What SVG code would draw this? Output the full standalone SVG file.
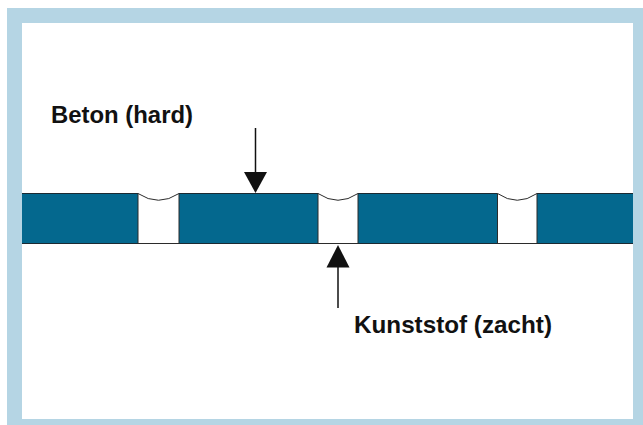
<svg xmlns="http://www.w3.org/2000/svg" width="643" height="425" viewBox="0 0 643 425">
  <style>
    .label { font-family: "Liberation Sans", Arial, sans-serif; font-weight: bold; font-size: 24.5px; fill: #111; }
    .bar { fill: #04688e; }
    .edge { stroke: #1c2a32; stroke-width: 1.2; fill: none; }
    .joint { stroke: #2b2b2b; stroke-width: 1; fill: none; }
    .shaft { stroke: #111; stroke-width: 1.5; }
    .head { fill: #111; }
  </style>

  <!-- frame -->
  <rect x="7" y="8" width="636" height="417" fill="#b5d5e4"/>
  <rect x="22" y="23" width="611" height="396" fill="#ffffff"/>

  <!-- concrete slab with soft expansion joints -->
  <g id="slab">
    <rect class="bar" x="22" y="193" width="611" height="50.5"/>
    <line class="edge" x1="22" y1="193.5" x2="633" y2="193.5"/>
    <line class="edge" x1="22" y1="243.5" x2="633" y2="243.5"/>
  </g>

  <g id="joint1">
    <rect x="138" y="192" width="41" height="51" fill="#fff"/>
    <path class="joint" d="M138,193.5 Q158.5,207 179,193.5 M138,193.5 V243.5 H179 V193.5"/>
  </g>
  <g id="joint2">
    <rect x="318" y="192" width="40" height="51" fill="#fff"/>
    <path class="joint" d="M318,193.5 Q338,207 358,193.5 M318,193.5 V243.5 H358 V193.5"/>
  </g>
  <g id="joint3">
    <rect x="497.5" y="192" width="39.5" height="51" fill="#fff"/>
    <path class="joint" d="M497.5,193.5 Q517.25,207 537,193.5 M497.5,193.5 V243.5 H537 V193.5"/>
  </g>

  <!-- labels -->
  <g id="label-beton">
    <text class="label" x="51" y="123" textLength="142" lengthAdjust="spacingAndGlyphs">Beton (hard)</text>
  </g>
  <g id="label-kunststof">
    <text class="label" x="354" y="332.5" textLength="198" lengthAdjust="spacingAndGlyphs">Kunststof (zacht)</text>
  </g>

  <!-- pointers -->
  <g id="connectors">
    <line class="shaft" x1="255.5" y1="128" x2="255.5" y2="176"/>
    <polygon class="head" points="244,172 267,172 255.5,193"/>
    <line class="shaft" x1="338" y1="308" x2="338" y2="264"/>
    <polygon class="head" points="326.5,267.5 349.5,267.5 338,245"/>
  </g>
</svg>
